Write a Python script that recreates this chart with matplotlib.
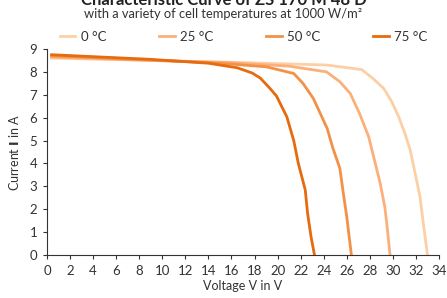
import matplotlib
matplotlib.use("Agg")
import matplotlib.pyplot as plt

plt.rcParams['font.family'] = ['Lato', 'DejaVu Sans']

labels = ["0 °C", "25 °C", "50 °C", "75 °C"]
colors = ["#fdcfa4", "#fbb07a", "#f39147", "#e66b0f"]

v0 = [0.4, 9.0, 16.0, 24.25, 27.3, 28.3, 29.2, 29.9, 30.5, 31.05, 31.5, 31.9, 32.35, 32.6, 33.0]
i0 = [8.6, 8.5, 8.42, 8.3, 8.1, 7.7, 7.28, 6.7, 6.04, 5.3, 4.59, 3.64, 2.55, 1.53, 0.0]

v25 = [0.4, 9.0, 16.0, 21.0, 24.25, 25.4, 26.3, 27.1, 27.9, 28.4, 28.9, 29.3, 29.5, 29.75]
i25 = [8.65, 8.5, 8.4, 8.25, 8.0, 7.57, 7.06, 6.19, 5.17, 4.15, 3.13, 2.1, 1.24, 0.0]

v50 = [0.4, 9.0, 15.0, 19.05, 21.4, 22.2, 23.1, 24.3, 24.8, 25.4, 25.7, 26.0, 26.4]
i50 = [8.7, 8.52, 8.38, 8.22, 7.93, 7.5, 6.84, 5.53, 4.66, 3.79, 2.7, 1.67, 0.0]

v75 = [0.4, 8.9, 14.0, 16.5, 17.8, 18.5, 19.3, 19.9, 20.8, 21.4, 21.8, 22.4, 22.6, 22.9, 23.2]
i75 = [8.75, 8.55, 8.38, 8.18, 7.95, 7.73, 7.3, 6.95, 6.04, 5.0, 4.0, 2.84, 1.83, 0.8, 0.0]

xticks = list(range(0, 35, 2))
yticks = list(range(0, 10))

fig = plt.figure(figsize=(4.47, 2.98), dpi=100)
ax = fig.add_axes([47/447, 1-255/298, (439-47)/447, (255-49)/298])

for v, i, c, l in zip([v0, v25, v50, v75], [i0, i25, i50, i75], colors, labels):
    ax.plot(v, i, color=c, lw=2.0, label=l, solid_joinstyle='round')

ax.set_xlim(0, 34)
ax.set_ylim(0, 9)
ax.set_xticks(xticks)
ax.set_yticks(yticks)
for s in ['top', 'right']:
    ax.spines[s].set_visible(False)
for s in ['left', 'bottom']:
    ax.spines[s].set_color('#333333')
    ax.spines[s].set_linewidth(0.8)
ax.tick_params(axis='both', colors='#333333', labelcolor='#333333', labelsize=9.5, length=3, width=0.8, pad=4)
ax.set_xlabel("Voltage V in V", fontsize=9, color='#333333', labelpad=2)
ax.set_ylabel("Current $\\mathbf{I}$ in A", fontsize=9, color='#333333', labelpad=6)

fig.text(0.5, 1.0, "Characteristic Curve of ZS 170 M 48 D", ha='center', va='center',
         fontsize=12, fontweight='bold', color='#222222')
fig.text(0.5, 1-14/298, "with a variety of cell temperatures at 1000 W/m²", ha='center', va='center',
         fontsize=9.3, color='#333333')

handles, labs = ax.get_legend_handles_labels()
fig.legend(handles, labs, loc='center', bbox_to_anchor=(0.545, 1-37/298), ncol=4, frameon=False,
           fontsize=9.5, handlelength=1.2, handletextpad=0.4, columnspacing=4.0,
           labelcolor='#333333')

fig.savefig("out.png", dpi=100)
